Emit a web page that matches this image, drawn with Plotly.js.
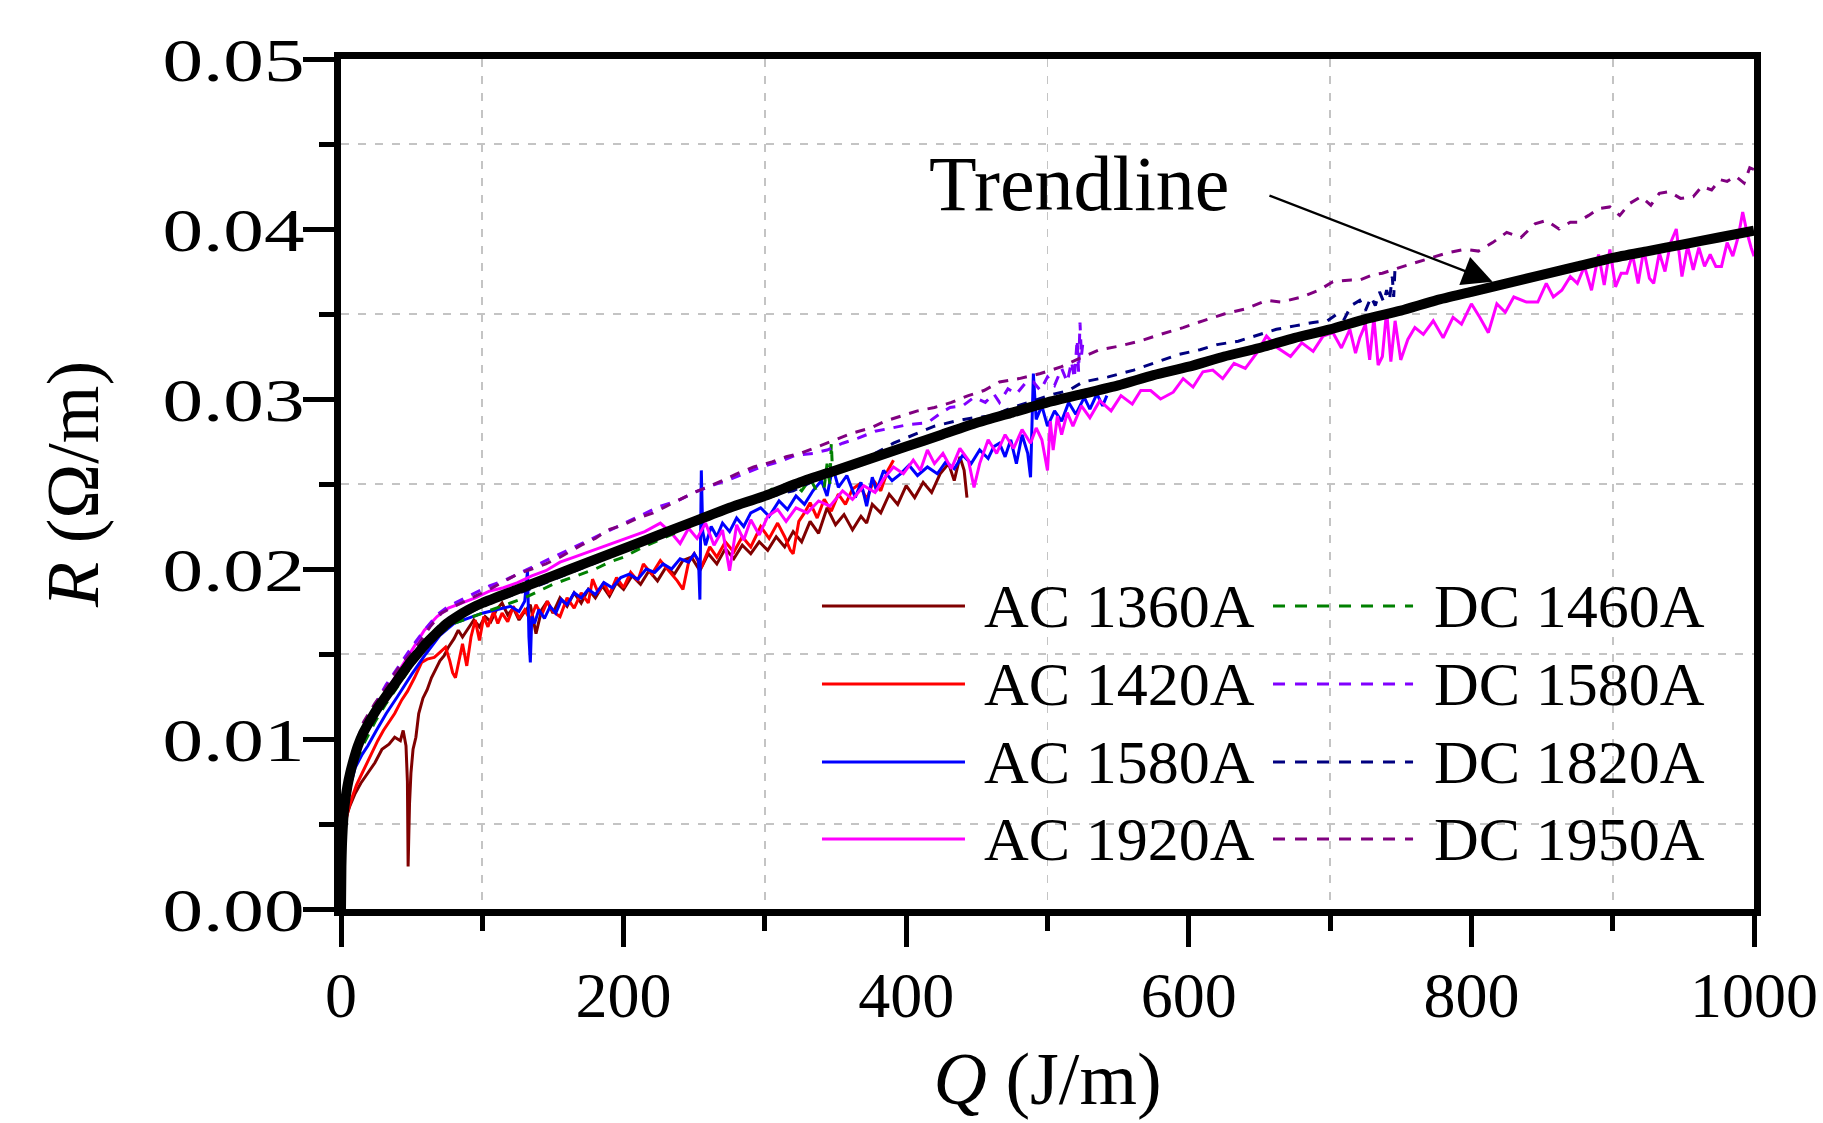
<!DOCTYPE html>
<html><head><meta charset="utf-8">
<script src="https://cdn.plot.ly/plotly-3.0.1.min.js"></script>
<style>html,body{margin:0;padding:0;background:#fff}#chart{width:1823px;height:1123px}</style>
</head><body><div id="chart"></div>
<script>
// ---------------- DATA (Q in J/m, R in Ohm/m) ----------------
const ac1360 = [[0,0.0005],[1,0.003],[3,0.0052],[6,0.006],[10,0.0068],[14,0.0074],[19,0.008],[24,0.0086],[29,0.0094],[34,0.0097],[38,0.0101],[42,0.0099],[44,0.0105],[46,0.0096],[47,0.0075],[47.5,0.0025],[48.5,0.0062],[49.5,0.008],[51,0.0094],[53,0.0101],[55,0.0115],[58,0.0124],[61,0.0129],[64,0.0136],[67,0.0141],[70,0.0146],[73,0.0149],[76,0.0154],[80,0.0159],[83,0.0164],[86,0.016],[90,0.0165],[94,0.017],[98,0.0166],[102,0.0172],[106,0.0169],[110,0.0176],[114,0.018],[118,0.0173],[122,0.0177],[126,0.017],[130,0.0175],[134,0.0179],[138,0.0162],[142,0.0176],[146,0.0181],[150,0.0174],[155,0.0183],[160,0.0178],[165,0.0186],[170,0.018],[175,0.0188],[180,0.0183],[185,0.019],[190,0.0184],[195,0.0192],[200,0.0188],[206,0.0196],[212,0.0191],[218,0.0199],[224,0.0193],[230,0.0201],[236,0.0197],[242,0.0205],[248,0.0207],[254,0.0199],[260,0.0209],[266,0.0203],[272,0.0212],[278,0.0206],[284,0.0214],[290,0.0209],[296,0.0216],[302,0.0211],[308,0.0219],[314,0.0213],[320,0.0222],[326,0.0216],[332,0.0228],[338,0.0221],[344,0.0236],[350,0.0226],[356,0.0232],[362,0.0223],[368,0.0231],[372,0.0227],[376,0.0238],[382,0.0233],[388,0.0244],[394,0.0238],[400,0.0249],[406,0.0242],[412,0.0251],[418,0.0245],[424,0.0256],[430,0.0262],[434,0.0252],[438,0.0266],[441,0.0258],[443,0.0242]];

const ac1420 = [[0,0.0008],[1,0.0035],[3,0.005],[5,0.0058],[8,0.0066],[11,0.0073],[15,0.008],[19,0.0087],[23,0.0094],[26,0.0099],[30,0.0105],[34,0.011],[38,0.0115],[43,0.0123],[47,0.0128],[52,0.0136],[57,0.0145],[61,0.0147],[66,0.0148],[70,0.0151],[74,0.0154],[77,0.0146],[79,0.0139],[81,0.0136],[84,0.0149],[86,0.0156],[89,0.0143],[92,0.016],[95,0.017],[98,0.0158],[101,0.0172],[104,0.0166],[108,0.0175],[111,0.0168],[114,0.0174],[118,0.0169],[122,0.0178],[126,0.0171],[130,0.0176],[134,0.017],[138,0.0179],[142,0.0173],[146,0.0181],[150,0.0175],[155,0.0172],[160,0.0183],[165,0.0177],[170,0.0186],[175,0.018],[178,0.0194],[182,0.0186],[186,0.0192],[190,0.0185],[195,0.0195],[200,0.0189],[205,0.0198],[210,0.0193],[214,0.0203],[220,0.0197],[226,0.0205],[232,0.0199],[238,0.0193],[242,0.0188],[246,0.0204],[250,0.0209],[255,0.0201],[261,0.0213],[266,0.0207],[272,0.0216],[278,0.021],[284,0.0219],[290,0.0213],[297,0.0225],[303,0.0218],[309,0.0227],[314,0.0219],[318,0.0211],[320,0.0209],[324,0.0228],[328,0.0233],[332,0.0239],[337,0.023],[342,0.0241],[347,0.0234],[352,0.0244],[357,0.0238],[362,0.0247],[367,0.025],[372,0.0241],[377,0.0252],[382,0.0246],[387,0.0258],[391,0.0264]];

const ac1580 = [[0,0.001],[2,0.0052],[5,0.0068],[10,0.0083],[15,0.0091],[19,0.0096],[25,0.0105],[32,0.0115],[40,0.0125],[50,0.0138],[60,0.015],[70,0.0161],[80,0.0168],[90,0.0171],[100,0.0174],[110,0.0176],[120,0.0178],[126,0.0175],[130,0.0181],[132,0.0199],[133,0.016],[134,0.0145],[135,0.0172],[137,0.0168],[140,0.0176],[144,0.0171],[148,0.0178],[152,0.0174],[156,0.0182],[160,0.0179],[165,0.0186],[170,0.0183],[175,0.0188],[180,0.0185],[186,0.0192],[192,0.0189],[198,0.0195],[204,0.0197],[210,0.0194],[216,0.02],[222,0.0198],[228,0.0203],[234,0.02],[240,0.0206],[246,0.0204],[250,0.0209],[253,0.0205],[254,0.0182],[255,0.0258],[256,0.0222],[258,0.0214],[262,0.0225],[266,0.0219],[270,0.0227],[275,0.0222],[280,0.023],[285,0.0225],[290,0.0233],[297,0.0236],[303,0.0231],[310,0.024],[316,0.0235],[322,0.0243],[328,0.0238],[334,0.0246],[340,0.0252],[344,0.0243],[348,0.026],[352,0.0248],[358,0.0255],[364,0.0242],[368,0.0251],[372,0.0237],[376,0.0254],[379,0.0246],[384,0.0258],[390,0.0252],[396,0.0256],[402,0.0261],[408,0.0255],[415,0.026],[422,0.0256],[428,0.0263],[434,0.0259],[440,0.0267],[446,0.0262],[452,0.027],[458,0.0265],[462,0.0272],[466,0.0274],[470,0.0266],[474,0.0276],[478,0.0262],[482,0.0279],[486,0.0268],[488,0.0254],[490,0.0315],[492,0.0288],[496,0.0296],[500,0.0284],[505,0.0293],[510,0.0287],[515,0.0298],[520,0.0291],[526,0.0301],[530,0.0294],[535,0.0303],[539,0.0296],[542,0.0302]];

const ac1920 = [[0,0.001],[2,0.0058],[5,0.0075],[10,0.0092],[16,0.0105],[24,0.0117],[32,0.0128],[40,0.0139],[50,0.0152],[59,0.0164],[68,0.0172],[76,0.0177],[85,0.018],[95,0.0183],[105,0.0187],[115,0.0189],[125,0.0192],[135,0.0196],[145,0.0199],[155,0.0204],[165,0.0207],[175,0.021],[185,0.0213],[195,0.0216],[205,0.0219],[215,0.0222],[226,0.0227],[234,0.0221],[240,0.0215],[246,0.0224],[252,0.0218],[258,0.0227],[264,0.0214],[270,0.0223],[275,0.0199],[280,0.0226],[285,0.0217],[290,0.0229],[296,0.022],[302,0.0231],[309,0.0235],[315,0.0228],[322,0.0236],[330,0.0233],[338,0.024],[346,0.0237],[355,0.0246],[362,0.0241],[370,0.0249],[378,0.0245],[384,0.0253],[391,0.026],[398,0.0256],[405,0.0264],[410,0.0258],[415,0.027],[420,0.0262],[426,0.0268],[432,0.0259],[438,0.0271],[444,0.0264],[448,0.0248],[452,0.0262],[458,0.0276],[464,0.0268],[470,0.0279],[476,0.0271],[482,0.0282],[488,0.0274],[492,0.0283],[496,0.0276],[500,0.0258],[502,0.0287],[504,0.027],[507,0.029],[510,0.0279],[514,0.0292],[518,0.0284],[524,0.0296],[530,0.0289],[537,0.0299],[545,0.0293],[552,0.0302],[560,0.0297],[566,0.0305],[573,0.0305],[580,0.03],[589,0.0304],[596,0.0312],[603,0.0307],[610,0.0316],[617,0.0317],[624,0.0312],[632,0.0321],[640,0.0318],[648,0.0327],[655,0.0337],[663,0.033],[672,0.0325],[680,0.0333],[688,0.0328],[695,0.0337],[702,0.0339],[708,0.033],[714,0.0341],[718,0.0327],[721,0.0336],[725,0.0344],[728,0.0323],[731,0.0348],[734,0.032],[737,0.0325],[740,0.0352],[743,0.0322],[746,0.0346],[750,0.0323],[755,0.0335],[760,0.0342],[766,0.0338],[773,0.0346],[780,0.0336],[787,0.0348],[793,0.0344],[800,0.0356],[806,0.0348],[812,0.0339],[818,0.0356],[824,0.0351],[830,0.036],[839,0.0357],[847,0.0357],[853,0.0368],[858,0.036],[864,0.0364],[870,0.0372],[875,0.0368],[880,0.0378],[885,0.0364],[890,0.0385],[894,0.0367],[898,0.0388],[902,0.0366],[906,0.0374],[910,0.0374],[914,0.0385],[918,0.0368],[922,0.0388],[926,0.0371],[929,0.0368],[933,0.0386],[937,0.0375],[941,0.0392],[945,0.04],[949,0.0372],[953,0.039],[957,0.0376],[961,0.0389],[965,0.0378],[969,0.0385],[973,0.0378],[977,0.0378],[981,0.0392],[985,0.0384],[989,0.0396],[992,0.041],[995,0.0398],[998,0.0389],[1000,0.0384]];

const dc1460 = [[0,0.001],[2,0.0055],[5,0.007],[10,0.0085],[16,0.0097],[24,0.011],[32,0.0121],[40,0.0131],[50,0.0143],[60,0.0154],[70,0.0162],[80,0.0168],[90,0.0171],[100,0.0174],[110,0.0177],[120,0.018],[130,0.0183],[140,0.0187],[150,0.0191],[160,0.0194],[170,0.0197],[180,0.02],[190,0.0204],[200,0.0207],[214,0.0213],[225,0.0217],[236,0.0221],[248,0.0226],[260,0.023],[273,0.0235],[285,0.0239],[297,0.0243],[305,0.0247],[312,0.0244],[320,0.025],[326,0.0246],[332,0.0253],[336,0.0247],[339,0.0256],[342,0.0248],[344,0.0262],[346,0.025],[347,0.0274],[348,0.0255]];

const dc1580 = [[0,0.001],[2,0.006],[5,0.0078],[10,0.0094],[16,0.0107],[24,0.012],[32,0.0132],[40,0.0142],[50,0.0154],[59,0.0164],[68,0.0173],[76,0.0178],[85,0.0182],[95,0.0186],[105,0.019],[115,0.0193],[125,0.0197],[135,0.0201],[145,0.0205],[155,0.0209],[165,0.0213],[175,0.0217],[185,0.0221],[195,0.0225],[205,0.0229],[215,0.0233],[226,0.0237],[238,0.024],[250,0.0245],[262,0.0249],[273,0.0252],[285,0.0256],[297,0.026],[310,0.0263],[322,0.0267],[334,0.0268],[344,0.027],[355,0.0274],[366,0.0277],[378,0.0281],[390,0.0283],[402,0.0285],[415,0.0286],[425,0.0292],[431,0.0295],[440,0.0296],[448,0.0301],[456,0.0298],[462,0.0303],[466,0.0298],[472,0.0306],[478,0.0303],[485,0.031],[490,0.031],[495,0.0305],[500,0.0313],[505,0.0308],[510,0.0318],[514,0.031],[517,0.0322],[519,0.0312],[521,0.0335],[522,0.0316],[523,0.0345],[524,0.0325],[525,0.0333]];

const dc1820 = [[0,0.001],[2,0.0056],[5,0.0072],[10,0.0088],[16,0.01],[24,0.0113],[32,0.0124],[40,0.0134],[50,0.0146],[60,0.0157],[70,0.0165],[80,0.017],[90,0.0174],[100,0.0178],[115,0.0183],[130,0.0187],[145,0.0192],[160,0.0197],[175,0.0202],[190,0.0207],[205,0.0212],[220,0.0217],[235,0.0222],[250,0.0226],[265,0.0231],[280,0.0236],[295,0.024],[310,0.0244],[320,0.0246],[335,0.0252],[350,0.0258],[365,0.0263],[378,0.0268],[391,0.0274],[405,0.0279],[420,0.0284],[435,0.0287],[448,0.0289],[461,0.029],[475,0.0295],[490,0.0299],[505,0.0303],[515,0.0305],[525,0.031],[543,0.0313],[561,0.0317],[575,0.0321],[592,0.0326],[608,0.0329],[620,0.0332],[635,0.0334],[650,0.0338],[662,0.0341],[675,0.0343],[688,0.0345],[698,0.0346],[705,0.035],[710,0.0347],[715,0.0355],[721,0.0358],[725,0.0352],[729,0.036],[732,0.0355],[735,0.0363],[738,0.0357],[740,0.0364],[742,0.0358],[744,0.0372],[745,0.036],[746,0.0378],[747,0.038]];

const dc1950 = [[0,0.001],[2,0.0062],[5,0.008],[10,0.0096],[16,0.011],[24,0.0121],[31,0.0129],[40,0.0141],[48,0.0149],[55,0.0156],[63,0.0166],[71,0.0174],[80,0.0178],[88,0.0181],[95,0.0184],[105,0.0188],[114,0.0192],[125,0.0197],[135,0.02],[145,0.0203],[155,0.0207],[161,0.021],[170,0.0214],[180,0.0218],[189,0.0223],[200,0.0226],[210,0.023],[221,0.0233],[230,0.0237],[240,0.0241],[250,0.0245],[259,0.0248],[270,0.0252],[280,0.0256],[292,0.026],[305,0.0263],[315,0.0266],[325,0.0268],[338,0.0272],[350,0.0276],[362,0.028],[375,0.0283],[385,0.0287],[396,0.029],[408,0.0293],[420,0.0295],[432,0.0298],[444,0.0302],[455,0.0305],[466,0.031],[480,0.0312],[495,0.0315],[510,0.0319],[523,0.0324],[537,0.0329],[550,0.0331],[565,0.0334],[580,0.0338],[596,0.0342],[610,0.0346],[625,0.035],[640,0.0353],[655,0.0358],[665,0.0357],[680,0.036],[692,0.0364],[702,0.0369],[715,0.037],[721,0.037],[730,0.0373],[737,0.0374],[748,0.0377],[760,0.038],[772,0.0383],[783,0.0386],[795,0.0388],[805,0.0387],[815,0.0392],[825,0.0398],[835,0.0395],[845,0.0403],[853,0.0405],[862,0.04],[870,0.0404],[875,0.0404],[883,0.0408],[890,0.0412],[898,0.0413],[905,0.0408],[912,0.0415],[920,0.0419],[927,0.0414],[933,0.0421],[940,0.0422],[948,0.0418],[957,0.0419],[963,0.0425],[970,0.0423],[976,0.0429],[981,0.0428],[987,0.0431],[993,0.0427],[997,0.0436],[1000,0.0435]];

const trendline = [[0,0.0],[0.3,0.0025],[0.7,0.0038],[1.2,0.0047],[2,0.0057],[3,0.0064],[4.5,0.0072],[6.5,0.008],[9,0.0088],[12,0.0096],[16,0.0104],[20,0.011],[25,0.0117],[30,0.0123],[36,0.013],[42,0.0137],[48,0.0144],[54,0.015],[60,0.0156],[66,0.0161],[71,0.0165],[75,0.0168],[82,0.0172],[90,0.0176],[100,0.018],[125,0.0188],[150,0.0196],[175,0.0204],[200,0.0212],[225,0.022],[250,0.0228],[275,0.0236],[300,0.0243],[325,0.0251],[350,0.0258],[375,0.0265],[400,0.0272],[425,0.0279],[450,0.0286],[475,0.0292],[500,0.0298],[525,0.0303],[550,0.0308],[575,0.0314],[600,0.0319],[625,0.0325],[650,0.033],[675,0.0336],[700,0.0341],[725,0.0347],[750,0.0352],[775,0.0358],[800,0.0363],[825,0.0368],[850,0.0373],[875,0.0378],[900,0.0383],[925,0.0387],[950,0.0391],[975,0.0395],[1000,0.0399]];

const seriesNames  = ["AC 1360A","AC 1420A","AC 1580A","AC 1920A","DC 1460A","DC 1580A","DC 1820A","DC 1950A"];
const seriesData   = [ac1360, ac1420, ac1580, ac1920, dc1460, dc1580, dc1820, dc1950];
const seriesColors = ["#800000","#ff0000","#0000ff","#ff00ff","#008000","#8000ff","#000080","#800080"];
const seriesDashed = [false,false,false,false,true,true,true,true];
const xTickVals = [0,200,400,600,800,1000];
const xMinorVals = [100,300,500,700,900];
const yTickVals = [0,0.01,0.02,0.03,0.04,0.05];
const yMinorVals = [0.005,0.015,0.025,0.035,0.045];

// ---------------- STYLE ----------------
const FONT = '"Liberation Serif","Times New Roman",Times,serif';
const traces = seriesData.map((d,i)=>({
  type:'scatter', mode:'lines', name:seriesNames[i], showlegend:false,
  x:d.map(p=>p[0]), y:d.map(p=>p[1]),
  line:{color:seriesColors[i], width:3, dash: seriesDashed[i] ? '10px,9px' : 'solid'}
}));
traces.push({type:'scatter', mode:'lines', name:'Trendline', showlegend:false,
  x:trendline.map(p=>p[0]), y:trendline.map(p=>p[1]),
  line:{color:'#000000', width:10, shape:'spline', smoothing:0.6}});

// custom legend (two columns: AC | DC)
const rowY = [0.3565,0.2647,0.1729,0.0824];
const colLine = [[0.3404,0.4416],[0.6596,0.7587]];
const colText = [0.4536,0.7721];
const shapes = [], annotations = [];
seriesNames.forEach((nm,i)=>{
  const col = seriesDashed[i] ? 1 : 0;
  const row = i % 4;
  shapes.push({type:'line', xref:'paper', yref:'paper', x0:colLine[col][0], x1:colLine[col][1], y0:rowY[row], y1:rowY[row],
    line:{color:seriesColors[i], width:3, dash: seriesDashed[i] ? '12px,10px' : 'solid'}});
  annotations.push({xref:'paper', yref:'paper', x:colText[col], y:rowY[row], xanchor:'left', yanchor:'middle',
    text:nm, showarrow:false, font:{family:FONT, size:62, color:'#000'}});
});
annotations.push({xref:'paper', yref:'paper', x:0.5223, y:0.854, xanchor:'center', yanchor:'middle',
  text:'Trendline', showarrow:false, font:{family:FONT, size:78, color:'#000'}});
annotations.push({xref:'x', yref:'y', x:815, y:0.0369, axref:'x', ayref:'y', ax:656, ay:0.042,
  text:'', showarrow:true, arrowhead:2, arrowsize:2.6, arrowwidth:2.3, arrowcolor:'#000'});

const axisCommon = {
  showline:true, linecolor:'#000', linewidth:7, mirror:true,
  ticks:'outside', ticklen:31, tickwidth:5, tickcolor:'#000',
  showgrid:false, zeroline:false,
  tickfont:{family:FONT, size:64, color:'#000'},
};
const gridStyle = {ticks:'outside', ticklen:15, tickwidth:5, tickcolor:'#000',
  showgrid:true, gridcolor:'#c4c4c4', gridwidth:1.8, griddash:'8px,9px'};
const layout = {
  width:1823, height:1123,
  margin:{l:341, r:69, t:59, b:214},
  paper_bgcolor:'#fff', plot_bgcolor:'#fff',
  font:{family:FONT, color:'#000'},
  showlegend:false,
  xaxis:Object.assign({}, axisCommon, {
    range:[0,1000], tickmode:'array', tickvals:xTickVals,
    minor:Object.assign({tickmode:'array', tickvals:xMinorVals}, gridStyle),
    title:{text:'<i>Q</i> (J/m)', font:{family:FONT, size:74, color:'#000'}, standoff:14}
  }),
  yaxis:Object.assign({}, axisCommon, {
    range:[0,0.05], tickmode:'array', tickvals:yTickVals, tickformat:'.2f',
    tickfont:{family:FONT, size:62, color:'#000'},
    minor:Object.assign({tickmode:'array', tickvals:yMinorVals}, gridStyle),
    title:{text:'<i>R</i> (Ω/m)', font:{family:FONT, size:74, color:'#000'}, standoff:62}
  }),
  shapes:shapes, annotations:annotations
};
Plotly.newPlot('chart', traces, layout, {displayModeBar:false, staticPlot:true}).then(gd=>{
  // y tick labels in the reference are set wider; widen them about their right edge
  gd.querySelectorAll('g.ytick text').forEach(t=>{
    const bb = t.getBBox(); const R = bb.x + bb.width;
    const tr = t.getAttribute('transform') || '';
    t.setAttribute('transform', tr + ' translate(' + (R + 14) + ',0) scale(1.31,1) translate(' + (-R) + ',0)');
  });
  gd.querySelectorAll('g.xtick text').forEach(t=>{
    const tr = t.getAttribute('transform') || '';
    t.setAttribute('transform', tr + ' translate(0,-7)');
  });
});
</script></body></html>
